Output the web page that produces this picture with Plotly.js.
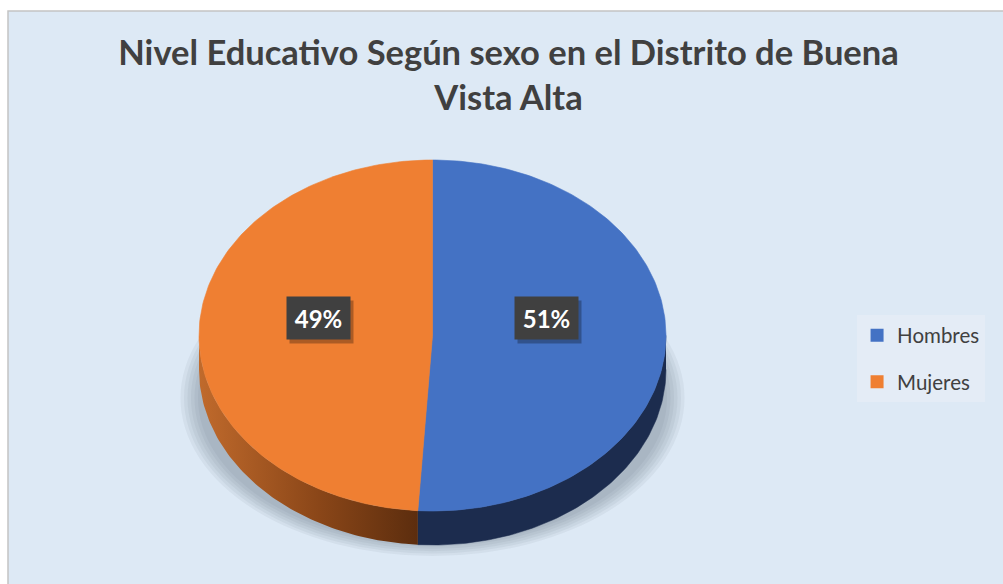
<!DOCTYPE html>
<html>
<head>
<meta charset="utf-8">
<script src="https://cdn.plot.ly/plotly-3.0.1.min.js"></script>
<style>
  html, body { margin: 0; padding: 0; background: #ffffff; }
  #chart { width: 1003px; height: 584px; }
</style>
</head>
<body>
<div id="chart"></div>
<script>
// ---- Data ----
const categories = ['Hombres', 'Mujeres'];
const values = [51, 49];
const titleText = 'Nivel Educativo Según sexo en el Distrito de Buena<br>Vista Alta';

// ---- Styles ----
const topColors = ['#4472c4', '#ef7f32'];
const sideColors = ['#1c2c4e', '#1c2c4e'];
const sideGradients = [null, [[0, '#c06a2c'], [0.55, '#8a4618'], [1, '#5c2d0e']]];
const FONT = 'Lato, "Open Sans", sans-serif';

// ---- Geometry of the tilted pie (pixel-like axis units) ----
const CX = 432.5, CY = 335.5, RX = 233.5, RY = 175.5, DEPTH = 34;
function pt(theta, dy) {
  const r = theta * Math.PI / 180;
  return [CX + RX * Math.sin(r), CY - RY * Math.cos(r) + dy];
}
function arc(a0, a1, dy) {
  const xs = [], ys = [];
  const n = Math.max(2, Math.ceil(Math.abs(a1 - a0)));
  for (let i = 0; i <= n; i++) {
    const p = pt(a0 + (a1 - a0) * i / n, dy);
    xs.push(p[0]); ys.push(p[1]);
  }
  return [xs, ys];
}

const total = values.reduce((a, b) => a + b, 0);
const slices = [];
let start = 0;
values.forEach((v, i) => {
  const sweep = 360 * v / total;
  slices.push({ a0: start, a1: start + sweep, i: i });
  start += sweep;
});

const traces = [];
// side walls (front half only)
slices.forEach(s => {
  const lo = Math.max(s.a0, 90), hi = Math.min(s.a1, 270);
  if (lo >= hi) return;
  const top = arc(lo, hi, 0), bot = arc(hi, lo, DEPTH);
  const tr = {
    type: 'scatter', mode: 'lines',
    x: top[0].concat(bot[0]), y: top[1].concat(bot[1]),
    fill: 'toself', fillcolor: sideColors[s.i],
    line: { width: 0.5, color: sideColors[s.i] },
    hoverinfo: 'skip', showlegend: false
  };
  if (sideGradients[s.i]) {
    tr.fillgradient = { type: 'horizontal', colorscale: sideGradients[s.i] };
    tr.line = { width: 0 };
  }
  traces.push(tr);
});
// top faces
slices.forEach(s => {
  const a = arc(s.a0, s.a1, 0);
  traces.push({
    type: 'scatter', mode: 'lines',
    x: [CX].concat(a[0]).concat([CX]), y: [CY].concat(a[1]).concat([CY]),
    fill: 'toself', fillcolor: topColors[s.i],
    line: { width: 0.6, color: topColors[s.i] },
    name: categories[s.i], hoverinfo: 'name', showlegend: false
  });
});
// legend entries
categories.forEach((c, i) => {
  traces.push({
    type: 'scatter', mode: 'markers', x: [null], y: [null],
    name: c, legendgroup: c,
    marker: { symbol: 'square', size: 13, color: topColors[i] }
  });
});

// percentage labels
const annotations = [];
slices.forEach(s => {
  const mid = (s.a0 + s.a1) / 2;
  const r = mid * Math.PI / 180;
  const lx = CX + 0.49 * RX * Math.sin(r);
  const ly = CY - 17.5 - 0.49 * RY * Math.cos(r) * 0.18;
  const pct = Math.round(values[s.i] / total * 100) + '%';
  annotations.push({
    x: lx, y: ly, xref: 'x', yref: 'y', text: ' ', showarrow: false,
    width: 63, height: 42, borderpad: 0, bgcolor: 'rgba(0,0,0,0.28)',
    xshift: 3, yshift: -4
  });
  annotations.push({
    x: lx, y: ly, xref: 'x', yref: 'y', text: pct, showarrow: false,
    width: 63, height: 42, borderpad: 0, bgcolor: '#404040',
    font: { family: FONT, size: 24, color: '#ffffff', weight: 'bold' }
  });
});

// shapes: chart frame and soft shadow under pie
const shapes = [{
  type: 'rect', xref: 'x', yref: 'y', x0: 8, x1: 1015, y0: 11, y1: 600,
  fillcolor: '#dde9f5', line: { color: '#c4c4c4', width: 1.5 }, layer: 'below'
}];
for (let k = 0; k < 6; k++) {
  const rx = 252 - k * 3.5, ry = 158 - k * 2.4, cy = 398;
  shapes.push({
    type: 'circle', xref: 'x', yref: 'y', layer: 'below',
    x0: CX - rx, x1: CX + rx, y0: cy - ry, y1: cy + ry,
    fillcolor: 'rgba(70,90,110,0.065)', line: { width: 0 }
  });
}

const layout = {
  width: 1003, height: 584,
  margin: { l: 0, r: 0, t: 0, b: 0 },
  paper_bgcolor: '#ffffff', plot_bgcolor: '#ffffff',
  xaxis: { range: [0, 1003], visible: false, fixedrange: true },
  yaxis: { range: [584, 0], visible: false, fixedrange: true },
  title: {
    text: titleText,
    font: { family: FONT, size: 34.5, color: '#404040', weight: 'bold' },
    x: 0.507, xanchor: 'center', xref: 'paper',
    y: 0.888, yanchor: 'top', yref: 'container'
  },
  showlegend: true,
  legend: {
    x: 0.8545, xanchor: 'left', y: 0.46, yanchor: 'top',
    bgcolor: '#e4ecf6', borderwidth: 0,
    font: { family: FONT, size: 20.5, color: '#404040' },
    tracegroupgap: 17, itemclick: false, itemdoubleclick: false
  },
  shapes: shapes,
  annotations: annotations
};

Plotly.newPlot('chart', traces, layout, { displayModeBar: false, staticPlot: true });
</script>
</body>
</html>
